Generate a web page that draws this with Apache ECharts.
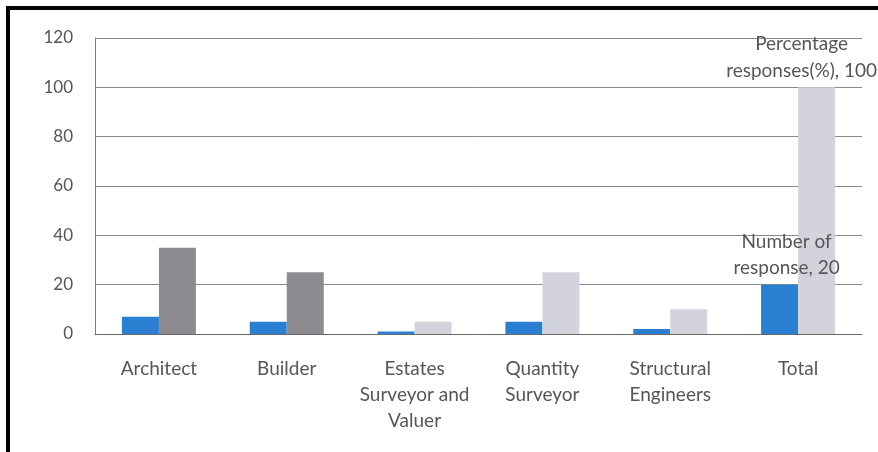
<!DOCTYPE html>
<html>
<head>
<meta charset="utf-8">
<script src="https://cdn.jsdelivr.net/npm/echarts@6/dist/echarts.min.js"></script>
<style>
  html, body { margin: 0; padding: 0; background: #fff; }
  #chart { width: 878px; height: 452px; }
</style>
</head>
<body>
<div id="chart"></div>
<script>
// Respondents by profession
const categories = ['Architect', 'Builder', 'Estates\nSurveyor and\nValuer', 'Quantity\nSurveyor', 'Structural\nEngineers', 'Total'];
const numberOfResponse = [7, 5, 1, 5, 2, 20];
const percentageResponses = [35, 25, 5, 25, 10, 100];
const yTicks = { min: 0, max: 120, interval: 20 };

const FONT = 'Lato, "Open Sans", sans-serif';
const TEXT = '#565656';
const BLUE = '#2a7fd3';
const DARK_GREY = '#8d8b90';
const LIGHT_GREY = '#d3d3de';

const last = categories.length - 1;

const chart = echarts.init(document.getElementById('chart'), null, { renderer: 'canvas' });
chart.setOption({
  animation: false,
  backgroundColor: '#fff',
  textStyle: { fontFamily: FONT },
  grid: { left: 95, right: 16, top: 38, bottom: 118 },
  xAxis: {
    type: 'category',
    data: categories,
    axisTick: { show: false },
    axisLine: { lineStyle: { color: '#6a6a6a', width: 1 } },
    axisLabel: {
      interval: 0,
      margin: 22,
      color: TEXT,
      fontSize: 19,
      lineHeight: 26,
      fontFamily: FONT
    }
  },
  yAxis: {
    type: 'value',
    min: yTicks.min,
    max: yTicks.max,
    interval: yTicks.interval,
    axisLine: { show: true, lineStyle: { color: '#7a7a7a', width: 1 } },
    axisTick: { show: false },
    splitLine: { lineStyle: { color: '#8a8a8a', width: 1 } },
    axisLabel: { margin: 22, color: TEXT, fontSize: 17, fontFamily: FONT }
  },
  series: [
    {
      name: 'Number of response',
      type: 'bar',
      barWidth: 37,
      barGap: '0%',
      itemStyle: { color: BLUE },
      data: numberOfResponse.map((v, i) => i === last ? {
        value: v,
        label: {
          show: true,
          position: 'top',
          distance: 4,
          offset: [7, 0],
          formatter: 'Number of\nresponse, {c}',
          color: TEXT,
          fontSize: 19,
          lineHeight: 26,
          fontFamily: FONT
        }
      } : v)
    },
    {
      name: 'Percentage responses(%)',
      type: 'bar',
      barWidth: 37,
      itemStyle: { color: LIGHT_GREY },
      data: percentageResponses.map((v, i) => {
        const item = { value: v, itemStyle: { color: i < 2 ? DARK_GREY : LIGHT_GREY } };
        if (i === last) {
          item.label = {
            show: true,
            position: 'top',
            distance: 3,
            offset: [-15, 0],
            formatter: 'Percentage\nresponses(%), {c}',
            color: TEXT,
            fontSize: 19,
            lineHeight: 27,
            fontFamily: FONT
          };
        }
        return item;
      })
    }
  ],
  graphic: [
    { type: 'line', shape: { x1: 6, y1: 8, x2: 878, y2: 8 }, style: { stroke: '#000', lineWidth: 4 } },
    { type: 'line', shape: { x1: 8, y1: 6, x2: 8, y2: 452 }, style: { stroke: '#000', lineWidth: 4 } }
  ]
});
</script>
</body>
</html>
